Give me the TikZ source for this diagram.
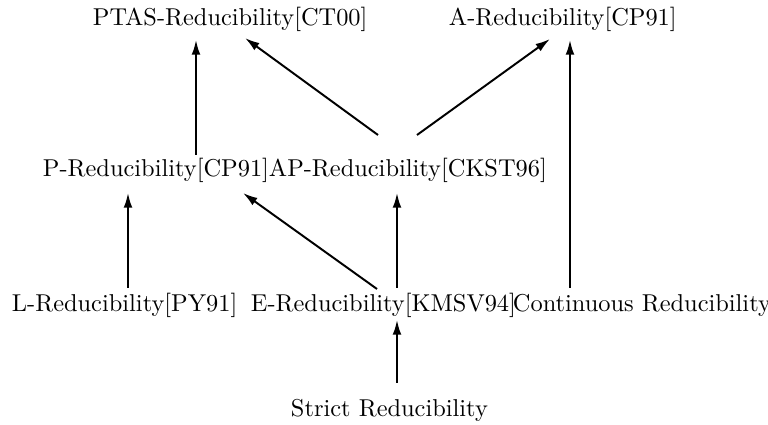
\documentclass[tikz,border=0pt]{standalone}
\usetikzlibrary{arrows.meta}

\begin{document}
\begin{tikzpicture}[->, >={Latex[length=6pt,width=3.6pt]}, x=.41pt, y=-.41pt, line width=.8pt]
   \tikzstyle{every node}=[inner sep=0pt, anchor=base west]
   \useasboundingbox (0,0) rectangle (768,425);

   % top row
   \node (ptas) at (92,26) {PTAS-Reducibility[CT00]};
   \node (aRed) at (448,26) {A-Reducibility[CP91]};
   % middle rows
   \node (pRed) at (42,177) {P-Reducibility[CP91]};
   \node (apRed) at (268,177) {AP-Reducibility[CKST96]};
   \node (lRed) at (11,312) {L-Reducibility[PY91]};
   \node (eRed) at (250,312) {E-Reducibility[KMSV94]};
   \node (cont) at (512,312) {Continuous Reducibility};
   % bottom
   \node (strict) at (290,417) {Strict Reducibility};


   \path
  ([shift={(154,-22)}]pRed.base west)
    edge [] ([shift={(104,14)}]ptas.base west)
  ([shift={(110,-42)}]apRed.base west)
    edge [] ([shift={(153,12)}]ptas.base west)
  ([shift={(149,-42)}]apRed.base west)
    edge [] ([shift={(102,13)}]aRed.base west)
  ([shift={(58,-24)}]cont.base west)
    edge [] ([shift={(122,14)}]aRed.base west)
  ([shift={(117,-24)}]lRed.base west)
    edge [] ([shift={(86,16)}]pRed.base west)
  ([shift={(127,-23)}]eRed.base west)
    edge [] ([shift={(201,16)}]pRed.base west)
  ([shift={(147,-24)}]eRed.base west)
    edge [] ([shift={(129,16)}]apRed.base west)
  ([shift={(107,-34)}]strict.base west)
    edge [] ([shift={(147,8)}]eRed.base west)
   ;
\end{tikzpicture}
\end{document}
